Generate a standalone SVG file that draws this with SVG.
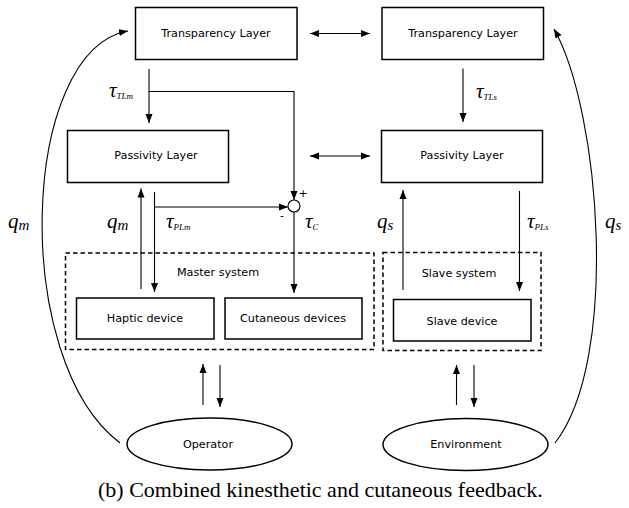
<svg xmlns="http://www.w3.org/2000/svg" width="629" height="508" viewBox="0 0 629 508">
<defs>
<marker id="ah" markerUnits="userSpaceOnUse" markerWidth="10" markerHeight="8" refX="9" refY="4" orient="auto-start-reverse">
<path d="M0,0.5 L9,4 L0,7.5 Z" fill="#000"/>
</marker>
</defs>
<style>
.box{fill:#fff;stroke:#000;stroke-width:1.5}
.dash{fill:none;stroke:#000;stroke-width:1.5;stroke-dasharray:4.5,3}
.lbl{font-family:"DejaVu Sans",sans-serif;font-size:11.2px;fill:#000;text-anchor:middle}
.ln{fill:none;stroke:#000;stroke-width:1.1}
.arr{fill:none;stroke:#000;stroke-width:1.1;marker-end:url(#ah)}
.dbl{fill:none;stroke:#000;stroke-width:1.1;marker-end:url(#ah);marker-start:url(#ah)}
.m{font-family:"Liberation Serif",serif;font-style:italic;font-size:21px;fill:#000}
.s{font-family:"Liberation Serif",serif;font-style:italic;font-size:9px;fill:#000}
.sm{font-family:"Liberation Serif",serif;font-style:italic;font-size:15px;fill:#000}
.sign{font-family:"DejaVu Sans",sans-serif;font-size:11px;fill:#000;text-anchor:middle}
.cap{font-family:"Liberation Serif",serif;font-size:22px;fill:#000}
</style>

<g id="master-system">
<rect class="dash" x="65.5" y="253" width="308.5" height="96.5"/>
<text class="lbl" x="218" y="276">Master system</text>
</g>
<g id="slave-system">
<rect class="dash" x="383" y="252.5" width="158" height="98"/>
<text class="lbl" x="459" y="277">Slave system</text>
</g>

<g id="tl-master">
<rect class="box" x="135.5" y="7.5" width="161.5" height="52"/>
<text class="lbl" x="216" y="37">Transparency Layer</text>
</g>
<g id="tl-slave">
<rect class="box" x="382" y="7.5" width="161.5" height="52"/>
<text class="lbl" x="463" y="37">Transparency Layer</text>
</g>
<g id="pl-master">
<rect class="box" x="67.5" y="130.5" width="161" height="52"/>
<text class="lbl" x="156" y="159">Passivity Layer</text>
</g>
<g id="pl-slave">
<rect class="box" x="381.5" y="130.5" width="161" height="52"/>
<text class="lbl" x="462" y="159">Passivity Layer</text>
</g>
<g id="haptic">
<rect class="box" x="76.5" y="298" width="137.5" height="41"/>
<text class="lbl" x="145" y="322">Haptic device</text>
</g>
<g id="cutaneous">
<rect class="box" x="225" y="298" width="137" height="41"/>
<text class="lbl" x="293" y="322">Cutaneous devices</text>
</g>
<g id="slave-device">
<rect class="box" x="393.5" y="299.5" width="137.5" height="41.5"/>
<text class="lbl" x="462" y="325">Slave device</text>
</g>
<g id="sum">
<circle cx="294" cy="206" r="6" fill="#fff" stroke="#000" stroke-width="1.1"/>
<text class="sign" x="303" y="197">+</text>
<text class="sign" x="282" y="219">-</text>
</g>
<g id="operator">
<ellipse cx="209.5" cy="444" rx="82.5" ry="26" fill="#fff" stroke="#000" stroke-width="1.5"/>
<text class="lbl" x="208" y="448">Operator</text>
</g>
<g id="environment">
<ellipse cx="465.5" cy="444.5" rx="82.5" ry="26" fill="#fff" stroke="#000" stroke-width="1.5"/>
<text class="lbl" x="466" y="448">Environment</text>
</g>

<g id="connectors">
<path class="dbl" d="M310,33.5 H370"/>
<path class="dbl" d="M310,156 H370"/>
<path class="arr" d="M149,69 V123"/>
<path class="arr" d="M149,91.5 H294 V200"/>
<path class="arr" d="M141,289 V188.5"/>
<path class="arr" d="M154.5,192 V292"/>
<path class="arr" d="M154.5,207 H288"/>
<path class="arr" d="M294,212 V293"/>
<path class="arr" d="M463,68.5 V122"/>
<path class="arr" d="M403,290 V190"/>
<path class="arr" d="M519.5,191 V291"/>
<path class="arr" d="M203,405 V364"/>
<path class="arr" d="M220,365 V407"/>
<path class="arr" d="M456.5,405 V365"/>
<path class="arr" d="M474,365 V407"/>
<path class="arr" d="M120,443 C10,360 20,50 128,31"/>
<path class="arr" d="M555,443 C620,360 600,110 554,29"/>
</g>

<g id="labels">
<text class="m" x="109" y="97">τ<tspan class="s" dy="2">TLm</tspan></text>
<text class="m" x="476" y="98">τ<tspan class="s" dy="2">TLs</tspan></text>
<text class="m" x="8" y="228">q<tspan class="sm" dy="2">m</tspan></text>
<text class="m" x="107" y="228">q<tspan class="sm" dy="2">m</tspan></text>
<text class="m" x="166" y="228">τ<tspan class="s" dy="2">PLm</tspan></text>
<text class="m" x="305" y="228">τ<tspan class="s" dy="2">C</tspan></text>
<text class="m" x="377" y="228">q<tspan class="sm" dy="2">s</tspan></text>
<text class="m" x="527" y="228">τ<tspan class="s" dy="2">PLs</tspan></text>
<text class="m" x="605" y="228">q<tspan class="sm" dy="2">s</tspan></text>
</g>

<text class="cap" x="98" y="497">(b) Combined kinesthetic and cutaneous feedback.</text>
</svg>
